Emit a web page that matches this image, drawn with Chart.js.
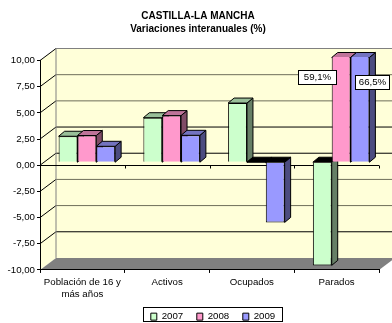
<!DOCTYPE html>
<html lang="es">
<head>
    <meta charset="UTF-8">
    <title>Castilla-La Mancha - Variaciones interanuales</title>
    <script src="https://cdn.jsdelivr.net/npm/chart.js"></script>
    <style>
        * { margin: 0; padding: 0; }
        body { background: #fff; width: 392px; height: 323px; overflow: hidden; }
        canvas { display: block; }
    </style>
</head>
<body>
    <canvas id="chart" width="392" height="323"></canvas>
    <script>
        const categories = [['Población de 16 y', 'más años'], 'Activos', 'Ocupados', 'Parados'];
        const years = ['2007', '2008', '2009'];
        const values2007 = [2.48, 4.25, 5.65, -9.85];
        const values2008 = [2.55, 4.45, -0.05, 59.1];
        const values2009 = [1.52, 2.57, -5.75, 66.5];
        const titleLines = ['CASTILLA-LA MANCHA', 'Variaciones interanuales (%)'];

        const FONT = '"Liberation Sans", Arial, sans-serif';
        // desplazamientos de la perspectiva
        const wallDx = 16, wallDy = -12;
        const barDx = 4.5, barDy = -3;
        const faceDx = 6, faceDy = -5;
        const softLines = [7.5, 5, -2.5, -5];

        function poly(ctx, pts, fill, stroke) {
            ctx.beginPath();
            pts.forEach((p, i) => i ? ctx.lineTo(p[0], p[1]) : ctx.moveTo(p[0], p[1]));
            ctx.closePath();
            if (fill) { ctx.fillStyle = fill; ctx.fill(); }
            if (stroke) { ctx.strokeStyle = stroke; ctx.lineWidth = 1; ctx.stroke(); }
        }

        const walls = {
            id: 'walls',
            afterLayout(chart) {
                // el titulo y la leyenda no van centrados sobre el grafico
                chart.titleBlock.right += 17;
                chart.legend.left += 47;
            },
            beforeDraw(chart) {
                const { ctx, chartArea: a, scales: { y } } = chart;
                const wall = '#FFFFD9';
                ctx.save();
                // pared lateral, fondo y suelo
                poly(ctx, [[a.left, a.top], [a.left + wallDx, a.top + wallDy], [a.left + wallDx, a.bottom + wallDy], [a.left, a.bottom]], wall);
                poly(ctx, [[a.left + wallDx, a.top + wallDy], [a.right + wallDx, a.top + wallDy], [a.right + wallDx, a.bottom + wallDy], [a.left + wallDx, a.bottom + wallDy]], wall);
                poly(ctx, [[a.left, a.bottom], [a.left + wallDx, a.bottom + wallDy], [a.right + wallDx, a.bottom + wallDy], [a.right, a.bottom]], '#808080');
                ctx.lineWidth = 1;
                y.ticks.forEach(t => {
                    if (t.value === -10) return;
                    const py = y.getPixelForValue(t.value);
                    ctx.strokeStyle = '#000';
                    ctx.beginPath();
                    ctx.moveTo(a.left, py);
                    ctx.lineTo(a.left + wallDx, py + wallDy);
                    ctx.stroke();
                    ctx.strokeStyle = t.value === 10 ? '#808080' : softLines.includes(t.value) ? '#6E6E5A' : '#000';
                    ctx.beginPath();
                    ctx.moveTo(a.left + wallDx, py + wallDy);
                    ctx.lineTo(a.right + wallDx, py + wallDy);
                    ctx.stroke();
                });
                ctx.strokeStyle = '#808080';
                ctx.beginPath();
                ctx.moveTo(a.left + wallDx, a.top + wallDy);
                ctx.lineTo(a.left + wallDx, a.bottom + wallDy);
                ctx.stroke();
                // linea del cero con sus marcas
                const zero = Math.round(y.getPixelForValue(0)) + 0.5;
                ctx.strokeStyle = '#000';
                ctx.beginPath();
                ctx.moveTo(a.left, zero);
                ctx.lineTo(a.right, zero);
                for (let i = 1; i <= categories.length; i++) {
                    const px = Math.round(a.left + (a.right - a.left) * i / categories.length) + 0.5;
                    ctx.moveTo(px, zero);
                    ctx.lineTo(px, zero + 3);
                }
                ctx.stroke();
                ctx.restore();
            }
        };

        // Chart.js pinta los datasets del ultimo al primero y aqui hace falta
        // al reves para que cada frente tape la cara lateral de la barra anterior
        const bars3d = {
            id: 'bars3d',
            beforeDatasetDraw() {
                return false;
            },
            beforeDatasetsDraw(chart) {
                const { ctx, chartArea: a, scales: { y } } = chart;
                chart.data.datasets.forEach((ds, index) => {
                    const meta = chart.getDatasetMeta(index);
                    ctx.save();
                    ctx.translate(barDx, barDy);
                    meta.data.forEach(bar => {
                        const w = bar.width / 2;
                        const zero = y.getPixelForValue(0);
                        const tip = Math.max(y.top, Math.min(y.bottom, bar.y));
                        const up = Math.min(zero, tip), low = Math.max(zero, tip);
                        const r = bar.x + w, l = bar.x - w;
                        poly(ctx, [[r, up], [r + faceDx, up + faceDy], [r + faceDx, low + faceDy], [r, low]], ds.sideColor, '#000');
                        poly(ctx, [[l, up], [l + faceDx, up + faceDy], [r + faceDx, up + faceDy], [r, up]], tip < zero ? ds.topColor : '#000', '#000');
                    });
                    // recorta las barras que se salen de la escala
                    ctx.beginPath();
                    ctx.rect(a.left, a.top - 0.5, a.right - a.left, a.bottom - a.top + 1);
                    ctx.clip();
                    meta.controller.draw();
                    ctx.restore();
                });
            },
            afterDatasetsDraw(chart) {
                // etiquetas de los valores recortados
                const { ctx } = chart;
                const boxes = [[1, 3, -20, 70, 38], [2, 3, 16.5, 75, 34]];
                ctx.save();
                ctx.font = '9.7px ' + FONT;
                ctx.textAlign = 'center';
                ctx.textBaseline = 'middle';
                boxes.forEach(([d, i, dx, top, w]) => {
                    const bar = chart.getDatasetMeta(d).data[i];
                    const l = Math.round(bar.x + dx - w / 2) + 0.5, t = top + 0.5;
                    ctx.fillStyle = '#fff';
                    ctx.strokeStyle = '#000';
                    ctx.lineWidth = 1;
                    ctx.fillRect(l, t, w, 14);
                    ctx.strokeRect(l, t, w, 14);
                    ctx.fillStyle = '#000';
                    const v = chart.data.datasets[d].data[i];
                    ctx.fillText(v.toFixed(1).replace('.', ',') + '%', l + w / 2, t + 7);
                });
                ctx.restore();
            },
            afterDraw(chart) {
                // marco de la leyenda
                const { ctx } = chart;
                ctx.save();
                ctx.strokeStyle = '#000';
                ctx.lineWidth = 1;
                ctx.strokeRect(143.5, 307.5, 139, 14);
                ctx.restore();
            }
        };

        function series(label, data, fill, top, side) {
            return {
                label, data,
                backgroundColor: fill,
                topColor: top,
                sideColor: side,
                borderColor: '#000',
                borderWidth: 1,
                categoryPercentage: 0.667,
                barPercentage: 1
            };
        }

        new Chart(document.getElementById('chart'), {
            type: 'bar',
            data: {
                labels: categories,
                datasets: [
                    series(years[0], values2007, '#CCFFCC', '#99BF99', '#667F66'),
                    series(years[1], values2008, '#FF99CC', '#BF7399', '#804C66'),
                    series(years[2], values2009, '#9999FF', '#7373BF', '#4C4C80')
                ]
            },
            options: {
                responsive: false,
                animation: false,
                layout: { padding: { right: 13, top: 4, bottom: -8.5, left: 0 } },
                plugins: {
                    tooltip: { enabled: false },
                    title: {
                        display: true,
                        text: titleLines,
                        color: '#000',
                        font: { family: FONT, size: 10, weight: 'bold', lineHeight: 1.3 },
                        padding: { top: 6, bottom: 24.5 }
                    },
                    legend: {
                        position: 'bottom',
                        labels: {
                            color: '#000',
                            boxWidth: 6,
                            boxHeight: 7,
                            padding: 13.6,
                            font: { family: FONT, size: 9.7 }
                        }
                    }
                },
                scales: {
                    x: {
                        grid: { drawOnChartArea: false, color: '#000', tickLength: 3 },
                        border: { color: '#000' },
                        afterFit(scale) { scale.height -= 5; },
                        ticks: { color: '#000', font: { family: FONT, size: 9.7, lineHeight: 1.25 }, maxRotation: 0, autoSkip: false, padding: 3 }
                    },
                    y: {
                        min: -10,
                        max: 10,
                        grid: { drawOnChartArea: false, color: '#000', tickLength: 3 },
                        border: { color: '#000' },
                        afterFit(scale) { scale.width = 40; },
                        ticks: {
                            stepSize: 2.5,
                            color: '#000',
                            padding: 2,
                            font: { family: FONT, size: 9.7 },
                            callback: v => v.toFixed(2).replace('.', ',')
                        }
                    }
                }
            },
            plugins: [walls, bars3d]
        });
    </script>
</body>
</html>
